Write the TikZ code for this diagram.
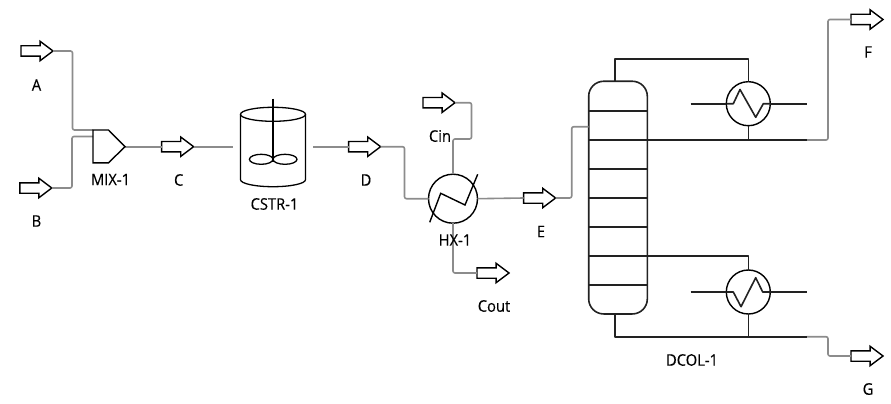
\documentclass[tikz,border=0pt]{standalone}
\usepackage{fontspec}
\setmainfont[FakeStretch=0.92,FakeBold=0.25]{Open Sans}
\usetikzlibrary{shapes.arrows,calc}
\definecolor{pipe}{HTML}{8C8C8C}
\definecolor{ink}{HTML}{222222}
\tikzset{
  stream/.style={draw=black,fill=white,line width=1.4pt,single arrow,minimum height=32pt,anchor=tail,
    single arrow head extend=4.5pt,single arrow tip angle=74,inner sep=0pt,outer sep=0pt,shape border rotate=0},
  pipeline/.style={draw=pipe,line width=1.6pt,rounded corners=2pt},
  eqline/.style={draw=ink,line width=1.6pt,line join=round},
  exch/.style={circle,draw=black,line width=1.4pt,minimum size=44pt,inner sep=0pt,outer sep=0pt},
  lab/.style={font=\fontsize{16}{18}\selectfont,inner sep=0pt,text=black,anchor=center}
}
\newcommand{\shaftbody}{\rule{0pt}{9pt}}
\begin{document}
\begin{tikzpicture}[x=1pt,y=-1pt]
\useasboundingbox (0,0) rectangle (891,404);
% stream arrows
\node[stream] (A) at (21,51) {\shaftbody};
\node[stream] (B) at (19.8,188) {\shaftbody};
\node[stream] (C) at (161.6,146.7) {\shaftbody};
\node[stream] (D) at (348.6,146.7) {\shaftbody};
\node[stream] (Cin) at (423,102.7) {\shaftbody};
\node[stream] (Cout) at (477,273) {\shaftbody};
\node[stream] (E) at (523.6,198) {\shaftbody};
\node[stream] (F) at (851,19.5) {\shaftbody};
\node[stream] (G) at (851,356) {\shaftbody};
% equipment anchors
\node[inner sep=0pt,minimum width=80pt,minimum height=10pt] (cstr) at (273,146.7) {};
\coordinate (mixa) at (93,130);
\coordinate (mixb) at (93,136.5);
\coordinate (mixout) at (125,146.7);
\node[exch,minimum size=49pt] (hx) at (453,198.7) {};
\node[draw=ink,line width=1.6pt,rounded corners=15pt,minimum width=58.6pt,minimum height=232.7pt,inner sep=0pt,outer sep=0pt] (col) at (618,197.6) {};
\node[exch] (cond) at (748.3,103.7) {};
\node[exch] (reb) at (748.3,292) {};
\coordinate (topout) at (806.7,140);
\coordinate (botout) at (806.7,336.7);
\coordinate (coltop) at (615,81.3);
\coordinate (colbot) at (615,314);
\coordinate (feed) at (588.7,126.7);
% gray process pipes
\draw[pipeline] (A.tip) -- (72.5,51) -- (72.5,130) -- (mixa);
\draw[pipeline] (B.tip) -- (72,188) -- (72,136.5) -- (mixb);
\draw[pipeline] (mixout) -- (C.tail);
\draw[pipeline] (C.tip) -- (cstr.west);
\draw[pipeline] (cstr.east) -- (D.tail);
\draw[pipeline] (D.tip) -- (404.5,146.7) -- (404.5,198.7) -- (hx.west);
\draw[pipeline] (Cin.tip) -- (471.5,102.7) -- (471.5,139) -- (453,139) -- (hx.north);
\draw[pipeline] (hx.south) -- (453,273) -- (Cout.tail);
\draw[pipeline] (hx.east) -- (E.tail);
\draw[pipeline] (E.tip) -- (571.7,198) -- (571.7,126.7) -- (feed);
\draw[pipeline] (topout) -- (828,140) -- (828,19.5) -- (F.tail);
\draw[pipeline] (botout) -- (828,336.7) -- (828,356) -- (G.tail);
% mixer
\draw[draw=black,line width=1.4pt,line join=miter] (93,130) -- (108.5,130) -- (mixout) -- (108.5,162.8) -- (93,162.8) -- cycle;
% reactor
\draw[black,line width=1.3pt] (273,114.3) ellipse (32.5pt and 7pt);
\draw[black,line width=1.3pt] (240.5,114.3) -- (240.5,179.7) arc[start angle=180,end angle=360,x radius=32.5pt,y radius=7pt] -- (305.5,114.3);
\draw[black,line width=1.3pt] (273,98.7) -- (273,161.7);
\draw[black,line width=1.3pt] (261.2,159.3) ellipse (11.8pt and 5pt);
\draw[black,line width=1.3pt] (285,159.3) ellipse (12pt and 5pt);
% heat exchanger zigzag
\draw[black,line width=1.4pt] (429.7,222.3) -- (440.7,193.3) -- (465,205) -- (477.7,174.3);
% column trays
\foreach \yy in {110.7,140,169,198,226.7,256,285}{
  \draw[eqline] (588.7,\yy) -- (647.3,\yy);
}
% condenser loop
\draw[eqline] (coltop) -- (615,59) -- (748.3,59) -- (cond.north);
\draw[eqline] (cond.south) -- (748.3,140);
\draw[eqline] (647.3,140) -- (topout);
\draw[eqline] (690.7,103.7) -- (cond.west);
\draw[eqline] (cond.east) -- (806.7,103.7);
\draw[eqline] (cond.west) -- (733.3,103.7) -- (740,89.5) -- (755.7,117.3) -- (763.3,103.7) -- (cond.east);
% reboiler loop
\draw[eqline] (647.3,256) -- (748.3,256) -- (reb.north);
\draw[eqline] (reb.south) -- (748.3,336.7);
\draw[eqline] (colbot) -- (615,336.7) -- (botout);
\draw[eqline] (690.7,292) -- (reb.west);
\draw[eqline] (reb.east) -- (806.7,292);
\draw[eqline] (reb.west) -- (733.3,292) -- (741,306.7) -- (755.7,277.7) -- (762.7,292) -- (reb.east);
% labels
\node[lab] (lA) at (36.5,85) {A};
\node[lab] (lB) at (36.5,221) {B};
\node[lab] (lM) at (110.5,179.5) {MIX-1};
\node[lab] (lC) at (178.7,180) {C};
\node[lab] (lR) at (274.5,204) {CSTR-1};
\node[lab] (lD) at (366,180) {D};
\node[lab] (lCin) at (440,136) {Cin};
\node[lab] (lH) at (455,240) {HX-1};
\node[lab] (lCo) at (494,306) {Cout};
\node[lab] (lE) at (541,231.5) {E};
\node[lab] (lF) at (868,52) {F};
\node[lab] (lG) at (868,389) {G};
\node[lab] (lDC) at (692,360) {DCOL-1};
\end{tikzpicture}
\end{document}
